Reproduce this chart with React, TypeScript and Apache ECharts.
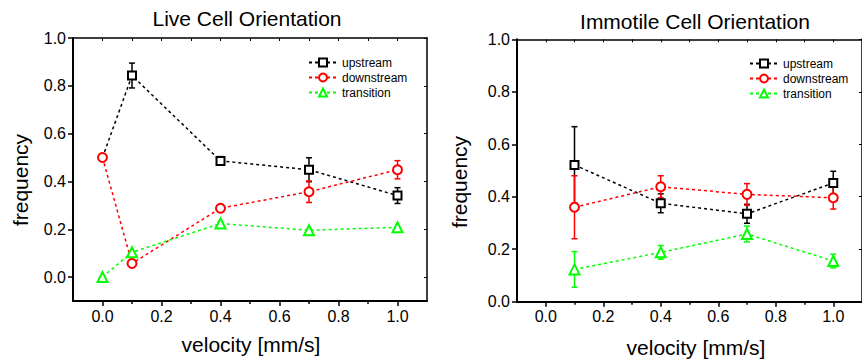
import React, { useEffect, useRef } from 'react';
import * as echarts from 'echarts';

// ---------- data ----------
const seriesNames = ['upstream', 'downstream', 'transition'];

const liveVelocity = [0, 0.1, 0.4, 0.7, 1.0];
const liveUpstream = [0.5, 0.843, 0.486, 0.449, 0.341];
const liveUpstreamErr = [0, 0.052, 0.018, 0.05, 0.033];
const liveDownstream = [0.5, 0.057, 0.288, 0.357, 0.449];
const liveDownstreamErr = [0, 0, 0.008, 0.045, 0.038];
const liveTransition = [0.0, 0.104, 0.224, 0.196, 0.208];
const liveTransitionErr = [0, 0, 0.008, 0, 0];

const immVelocity = [0.1, 0.4, 0.7, 1.0];
const immUpstream = [0.521, 0.375, 0.335, 0.452];
const immUpstreamErr = [0.146, 0.036, 0.036, 0.045];
const immDownstream = [0.36, 0.438, 0.409, 0.396];
const immDownstreamErr = [0.12, 0.042, 0.041, 0.043];
const immTransition = [0.123, 0.188, 0.258, 0.155];
const immTransitionErr = [0.068, 0.026, 0.03, 0.026];

const xMajorTicks = [0, 0.2, 0.4, 0.6, 0.8, 1.0];
const xMinorTicks = [0.1, 0.3, 0.5, 0.7, 0.9];
const xTopTicks = [0, 0.1, 0.2, 0.3, 0.4, 0.5, 0.6, 0.7, 0.8, 0.9, 1.0];
const yMajorTicks = [0, 0.2, 0.4, 0.6, 0.8, 1.0];

const titles = ['Live Cell Orientation', 'Immotile Cell Orientation'];
const xName = 'velocity [mm/s]';
const yName = 'frequency';

// ---------- styles ----------
const FONT = '"Liberation Sans", Arial, Helvetica, sans-serif';
const colors = ['#000000', '#ff0000', '#00ff00'];
const symbols = ['emptyRect', 'emptyCircle', 'emptyTriangle'];
const symbolSizes = [8, 9, 10];

// hide a marker where it sits exactly under a later series' marker
function lineSeries(idx: number, xs: number[], ys: number[], xAxisIndex: number, yAxisIndex: number, coveredBy?: number[]) {
  return {
    type: 'line',
    name: seriesNames[idx],
    xAxisIndex,
    yAxisIndex,
    data: xs.map((x, i) =>
      coveredBy && coveredBy[i] === ys[i] ? { value: [x, ys[i]], symbol: 'none' } : [x, ys[i]]
    ),
    symbol: symbols[idx],
    symbolSize: symbolSizes[idx],
    showAllSymbol: true,
    lineStyle: { color: colors[idx], width: 1.5, type: [3, 3] },
    itemStyle: { color: colors[idx], borderWidth: 2 },
    z: 3,
    silent: true,
  };
}

function errSeries(idx: number, xs: number[], ys: number[], errs: number[], xAxisIndex: number, yAxisIndex: number) {
  const color = colors[idx];
  return {
    type: 'custom',
    name: seriesNames[idx] + ' error',
    xAxisIndex,
    yAxisIndex,
    z: 2,
    silent: true,
    data: xs.map((x, i) => [x, ys[i], errs[i]]),
    renderItem: (_params: any, api: any) => {
      const x = api.value(0);
      const y = api.value(1);
      const e = api.value(2);
      if (!e) return null;
      const top = api.coord([x, y + e]);
      const bot = api.coord([x, y - e]);
      const w = 3;
      const st = { stroke: color, lineWidth: 1.5 };
      return {
        type: 'group',
        children: [
          { type: 'line', shape: { x1: top[0], y1: top[1], x2: bot[0], y2: bot[1] }, style: st },
          { type: 'line', shape: { x1: top[0] - w, y1: top[1], x2: top[0] + w, y2: top[1] }, style: st },
          { type: 'line', shape: { x1: bot[0] - w, y1: bot[1], x2: bot[0] + w, y2: bot[1] }, style: st },
        ],
      };
    },
  };
}

function gridAxes(gridIndex: number, yMin: number) {
  const lbl = { color: '#000', fontSize: 16, fontFamily: FONT };
  const xAxes = [
    {
      type: 'value', gridIndex, position: 'bottom', min: -0.1, max: 1.1,
      axisLine: { show: true, onZero: false, lineStyle: { color: '#000', width: 2 } },
      axisTick: { show: true, length: 5, customValues: xMajorTicks, lineStyle: { color: '#000', width: 1.5 } },
      axisLabel: { ...lbl, margin: 7, customValues: xMajorTicks, formatter: (v: number) => v.toFixed(1) },
      splitLine: { show: false },
    },
    {
      type: 'value', gridIndex, position: 'bottom', min: -0.1, max: 1.1,
      axisLine: { show: false, onZero: false },
      axisTick: { show: true, length: 3, customValues: xMinorTicks, lineStyle: { color: '#000', width: 1.5 } },
      axisLabel: { show: false },
      splitLine: { show: false },
    },
    {
      type: 'value', gridIndex, position: 'top', min: -0.1, max: 1.1,
      axisLine: { show: true, onZero: false, lineStyle: { color: '#000', width: 1.5 } },
      axisTick: { show: true, inside: true, length: 3, customValues: xTopTicks, lineStyle: { color: '#000', width: 1 } },
      axisLabel: { show: false },
      splitLine: { show: false },
    },
  ];
  const yAxes = [
    {
      type: 'value', gridIndex, position: 'left', min: yMin, max: 1.0,
      axisLine: { show: true, onZero: false, lineStyle: { color: '#000', width: 2 } },
      axisTick: { show: true, length: 5, customValues: yMajorTicks, lineStyle: { color: '#000', width: 1.5 } },
      axisLabel: { ...lbl, margin: 7, customValues: yMajorTicks, formatter: (v: number) => v.toFixed(1) },
      splitLine: { show: false },
    },
    {
      type: 'value', gridIndex, position: 'right', min: yMin, max: 1.0,
      axisLine: { show: true, onZero: false, lineStyle: { color: '#000', width: 1.5 } },
      axisTick: { show: true, inside: true, length: 3, customValues: yMajorTicks, lineStyle: { color: '#000', width: 1 } },
      axisLabel: { show: false },
      splitLine: { show: false },
    },
  ];
  return { xAxes, yAxes };
}

function legendAt(left: number, top: number) {
  return {
    orient: 'vertical',
    left,
    top,
    padding: 0,
    itemGap: 0,
    itemWidth: 28,
    itemHeight: 10,
    data: seriesNames,
    selectedMode: false,
    textStyle: { color: '#000', fontSize: 12, fontFamily: FONT, lineHeight: 15 },
  };
}

export default function App() {
  const ref = useRef<HTMLDivElement>(null);

  useEffect(() => {
    if (!ref.current) return;
    const chart = echarts.init(ref.current, undefined, { renderer: 'svg' });

    const g0 = gridAxes(0, -0.1);
    const g1 = gridAxes(1, 0);

    const option: any = {
      animation: false,
      backgroundColor: '#ffffff',
      textStyle: { fontFamily: FONT },
      grid: [
        { left: 73, top: 38, width: 354, height: 263, containLabel: false },
        { left: 517, top: 39.3, width: 354, height: 262.4, containLabel: false },
      ],
      xAxis: [...g0.xAxes, ...g1.xAxes],
      yAxis: [...g0.yAxes, ...g1.yAxes],
      legend: [legendAt(308, 55), legendAt(749, 56)],
      series: [
        errSeries(0, liveVelocity, liveUpstream, liveUpstreamErr, 0, 0),
        errSeries(1, liveVelocity, liveDownstream, liveDownstreamErr, 0, 0),
        errSeries(2, liveVelocity, liveTransition, liveTransitionErr, 0, 0),
        lineSeries(0, liveVelocity, liveUpstream, 0, 0, liveDownstream),
        lineSeries(1, liveVelocity, liveDownstream, 0, 0),
        lineSeries(2, liveVelocity, liveTransition, 0, 0),
        errSeries(0, immVelocity, immUpstream, immUpstreamErr, 3, 2),
        errSeries(1, immVelocity, immDownstream, immDownstreamErr, 3, 2),
        errSeries(2, immVelocity, immTransition, immTransitionErr, 3, 2),
        lineSeries(0, immVelocity, immUpstream, 3, 2),
        lineSeries(1, immVelocity, immDownstream, 3, 2),
        lineSeries(2, immVelocity, immTransition, 3, 2),
      ],
      graphic: [
        { type: 'text', x: 247, y: 18, style: { text: titles[0], fontSize: 21, fontFamily: FONT, fill: '#000', textAlign: 'center', textVerticalAlign: 'middle' } },
        { type: 'text', x: 695, y: 21, style: { text: titles[1], fontSize: 21, fontFamily: FONT, fill: '#000', textAlign: 'center', textVerticalAlign: 'middle' } },
        { type: 'text', x: 251, y: 344, style: { text: xName, fontSize: 21, fontFamily: FONT, fill: '#000', textAlign: 'center', textVerticalAlign: 'middle' } },
        { type: 'text', x: 696, y: 347, style: { text: xName, fontSize: 21, fontFamily: FONT, fill: '#000', textAlign: 'center', textVerticalAlign: 'middle' } },
        { type: 'text', x: 20, y: 180, rotation: Math.PI / 2, style: { text: yName, fontSize: 21, fontFamily: FONT, fill: '#000', textAlign: 'center', textVerticalAlign: 'middle' } },
        { type: 'text', x: 459, y: 182, rotation: Math.PI / 2, style: { text: yName, fontSize: 21, fontFamily: FONT, fill: '#000', textAlign: 'center', textVerticalAlign: 'middle' } },
      ],
    };

    chart.setOption(option);
    return () => chart.dispose();
  }, []);

  return (
    <div
      ref={ref}
      style={{ position: 'absolute', left: 0, top: 0, width: 862, height: 362, background: '#fff' }}
    />
  );
}
